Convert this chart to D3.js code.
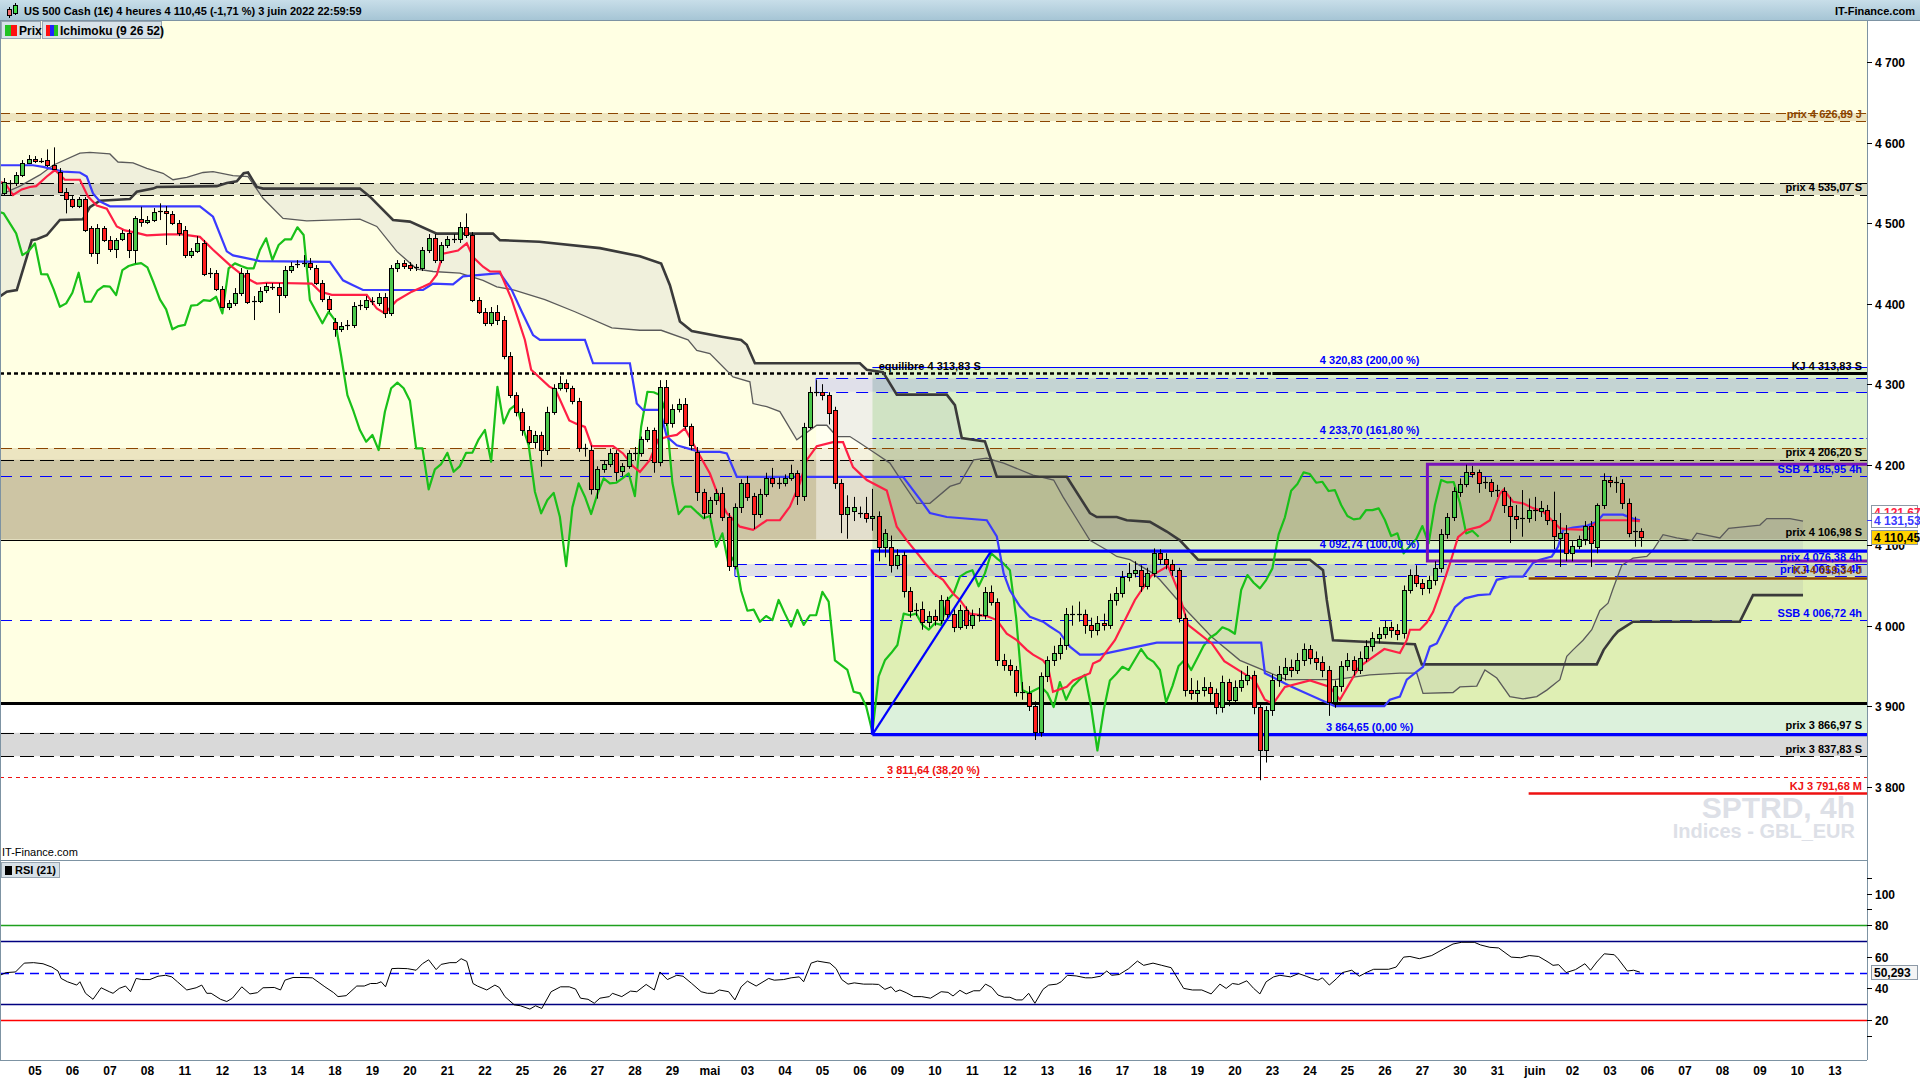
<!DOCTYPE html>
<html><head><meta charset="utf-8">
<script src="https://cdn.jsdelivr.net/npm/d3@7/dist/d3.min.js"></script>
<style>
html,body{margin:0;padding:0;background:#fff;overflow:hidden;}
svg{display:block;}
text{font-family:"Liberation Sans",Arial,sans-serif;}
</style></head><body>
<svg id="chart" width="1920" height="1080"></svg>
<script>
// ---------------- DATA ----------------
const titleText = "US 500 Cash (1€) 4 heures 4 110,45 (-1,71 %) 3 juin 2022 22:59:59";
const dayLabels = ["05","06","07","08","11","12","13","14","18","19","20","21","22","25","26","27","28","29","mai","03","04","05","06","09","10","11","12","13","16","17","18","19","20","23","24","25","26","27","30","31","juin","02","03","06","07","08","09","10","13"];
const priceTicks = [3800,3900,4000,4100,4200,4300,4400,4500,4600,4700];
const rsiTicks = [20,40,60,80,100];
const rsiMinorTicks = [10,90,110];
const rsiLevels = [80,70,50,30,20];

const opens = [4537.8,4550.2,4549.5,4559.8,4575.1,4579.3,4577.6,4578.4,4572.2,4563.9,
4539.1,4529.6,4521.3,4529.6,4493.6,4462.5,4493.6,4479.1,4467.5,4479.9,
4488.1,4466.6,4504.8,4501.8,4503.9,4514.2,4515.1,4511.4,4499.8,4491.5,
4460.4,4465.4,4475,4437.7,4437.7,4417.8,4396.2,4400.4,4413.6,4438.5,
4403.7,4403.7,4416.9,4421.1,4421.1,4410.7,4441.8,4448.9,4450.1,4450.9,
4443.9,4426,4405.4,4377.6,4368.2,4373.5,4373.5,4398.3,4396.2,4403.3,
4401.2,4407.9,4388,4443.9,4450.1,4448,4445.5,4443.9,4466.7,4481.2,
4454.2,4472.9,4479.9,4479.9,4495.6,4485.3,4404.5,4390,4375.6,4390,
4379.7,4335,4286.5,4265.8,4243,4228.6,4236.9,4218.2,4265.8,4294.9,
4301.9,4294.9,4279.5,4220.3,4218.2,4169.4,4194.2,4200.8,4214.8,4192.5,
4198.3,4214.8,4214.8,4231.5,4243.1,4203.7,4296.8,4251.4,4268.8,4275,
4248,4216.1,4166.4,4139.6,4156.2,4165,4135,4074,4147.8,4176.8,
4161,4138.7,4163.6,4183.1,4177.5,4176.8,4183.1,4189.3,4161,4247.2,
4290.6,4290.6,4286.5,4267.9,4177.6,4138.7,4142.8,4140.3,4140.3,4133.4,
4136.3,4098.1,4098.1,4075.4,4087.8,4043.4,4019.9,4021.2,4004.9,4012,
4007,4032,4015,3999,4019.5,4001,4013,4013,4042,4030,
3957,3951,3945,3918,3916,3900,3868,3937,3957,3966,
3976,4015,4013,4015,4001,3995,4003,4001,4032,4040,
4061,4066,4069,4049,4065,4090,4083,4077,4069,4010,
3920,3916,3920,3924,3916,3899,3930,3908,3924,3932,
3939,3899,3845,3895,3932,3940,3949,3945,3958,3971,
3960,3955,3945,3905,3925,3950,3958,3945,3960,3975,
3985,3990,3998,3995,3990.5,4044.3,4062.9,4053.4,4046.4,4056.7,
4071.2,4113.5,4134.6,4165.9,4176,4190.5,4190.5,4176.8,4178.1,4168.6,
4167.6,4148.6,4136.2,4133.4,4133.4,4143.7,4142.8,4143.7,4131.3,4108.6,
4114.8,4089.9,4099.2,4107.3,4123.8,4098.1,4149.9,4181,4178.8,4176.8,
4152.7,4115.9,4118];
const highs = [4556.1,4553.6,4563.5,4578.4,4584.7,4583.4,4580.9,4591.7,4594.2,4568.5,
4543.7,4533.7,4532.5,4532.5,4496.5,4498.9,4496.5,4484,4481.6,4491.5,
4492.7,4508.9,4520.4,4508.9,4518.8,4524.7,4521.3,4515.1,4503.9,4496.5,
4469.1,4484,4479.1,4444.3,4441.8,4421.9,4404.5,4419.4,4444.3,4441.8,
4409.5,4420.7,4425.6,4425.6,4425.6,4446.8,4451.7,4454.2,4460.4,4456.7,
4448,4429.4,4409.5,4382.2,4377.2,4379.7,4402,4404.5,4409.5,4408.2,
4413.2,4413.2,4448,4454.2,4454.2,4451.7,4449.3,4470.4,4486.5,4486.5,
4476.6,4484,4486.5,4501.4,4512.2,4489,4408.2,4394.6,4395.9,4398.3,
4384.7,4339.9,4290,4270,4248,4242,4241,4272,4300,4310,
4306,4298,4283,4226,4224,4198,4205,4220,4218,4202,
4218,4222,4235,4247,4246,4305,4305.2,4275,4282,4282.8,
4251,4222,4170,4160,4170,4172,4140,4152,4182,4186,
4165,4170,4190,4196,4184,4188,4200,4193,4252,4296.8,
4305,4300,4290,4272,4182,4162,4160,4148,4160,4170,
4142,4120,4112,4095,4092,4048,4028,4030,4018,4020,
4038,4036,4020,4026,4024,4020,4022,4048,4050,4034,
3965,3958,3950,3930,3925,3906,3942,3962,3975,3985,
4022,4025,4030,4020,4010,4012,4015,4040,4048,4068,
4078,4080,4075,4072,4096,4095,4090,4082,4072,4015,
3935,3932,3936,3930,3922,3938,3934,3932,3944,3950,
3944,3905,3900,3940,3950,3960,3958,3966,3978,3976,
3968,3962,3950,3932,3956,3966,3962,3968,3982,3992,
3998,4006,4005,4002,4050,4070,4075,4058,4062,4080,
4120,4140,4172,4183,4200,4198.5,4194,4185,4182,4175,
4172,4160,4150,4168.5,4158,4160,4155,4150,4166.5,4140,
4125,4105,4112,4130,4130,4152,4189.3,4186,4185,4182,
4158,4135.4,4121];
const lows = [4535,4535,4546.2,4557.3,4573.5,4574.7,4574.7,4569.8,4566,4537.5,
4512.2,4518.8,4518.8,4489,4458.3,4449.3,4476.6,4464.2,4456.7,4477.8,
4456.7,4450.1,4495.6,4498.9,4501.4,4503.9,4472.9,4497.7,4484,4456.7,
4456.7,4462.9,4434.3,4431.9,4415.7,4394.6,4392.1,4397.1,4409.5,4399.6,
4379.7,4400.8,4413.2,4417,4388.4,4407,4438.1,4444.3,4445.5,4441.8,
4423.2,4402,4389.6,4358.9,4364.8,4367.3,4369.8,4392.1,4392.1,4398.3,
4397.1,4382.2,4384.7,4439.3,4443.1,4440.6,4440.6,4440.6,4462.9,4450.5,
4450.5,4469.1,4475.4,4475.4,4481.6,4402,4387.2,4372.2,4372.2,4373.5,
4331,4282.8,4260,4236,4225,4220,4197.5,4212,4262,4292,
4290,4275,4216,4210,4163,4157.8,4190,4197,4180,4186,
4195,4205,4210,4228,4190,4198,4248,4246,4265,4244,
4218,4155,4133,4134,4150,4130,4068,4070,4140,4155,
4120,4134,4160,4172,4170,4173,4180,4150,4155,4244,
4285,4280,4250,4170,4115,4108,4130,4134,4128,4118,
4080,4085,4066,4070,4035,4010,4012,3995,3998,4000,
4002,4010,3992,3995,3996,3996,4005,4008,4025,3950,
3944,3938,3912,3908,3894,3858,3862,3930,3950,3958,
3970,4000,4005,3990,3985,3988,3994,3996,4025,4035,
4055,4060,4042,4045,4060,4076,4070,4062,4004,3912,
3908,3905,3912,3905,3890,3892,3900,3902,3918,3926,
3890,3808,3830,3888,3924,3932,3936,3940,3950,3952,
3945,3936,3888,3898,3918,3944,3938,3940,3955,3968,
3978,3984,3985,3982,3984,4040,4048,4038,4040,4050,
4066,4108,4130,4160,4172,4184,4165,4170,4160,4160,
4140,4102.7,4120,4110.5,4128,4130,4135,4125,4095,4073,
4080,4080,4095,4100,4073,4090,4145,4172,4165,4145,
4109.8,4098.1,4098];
const closes = [4551.5,4549,4559.8,4575.1,4579.3,4577.2,4576.3,4572.2,4566.9,4539.1,
4529.6,4521.3,4529.6,4491.5,4463.3,4493.6,4479.1,4467.5,4479.1,4488.1,
4466.6,4506,4501.8,4503.9,4514.2,4514.7,4512.2,4499.8,4487.4,4460.4,
4465.4,4475,4436.8,4436.4,4417.8,4396.2,4400.4,4413.6,4438.5,4402.4,
4402.4,4416.1,4421.9,4421.2,4410.7,4441.8,4446.8,4449.1,4450.4,4445.2,
4426,4405.4,4393,4368.2,4372.2,4373.6,4397.5,4398.4,4404.5,4403.4,
4408.6,4388,4443.9,4450.1,4446.8,4443.9,4443.9,4466.7,4481.2,4454.2,
4472.9,4479.9,4480,4494.9,4485.3,4404.5,4390,4375.6,4390,4379.7,
4335,4286.5,4265.8,4243,4228.6,4236.9,4218.2,4265.8,4294.9,4301.9,
4294.9,4279.5,4220.3,4220.4,4169.4,4194.2,4200.8,4214.8,4191.2,4198.3,
4214.8,4215,4231.5,4243.1,4203.7,4296.8,4251.4,4268.8,4275,4248,
4224.4,4166.4,4139.6,4156.2,4165,4135,4074,4147,4176.8,4160.2,
4138.7,4163.6,4183.1,4176.8,4177.6,4183.1,4189.3,4161,4247.2,4290.6,
4290,4286.5,4264.5,4177.6,4138.7,4147.8,4147.8,4140.4,4133.4,4136.3,
4098.1,4114.7,4075.4,4087.8,4043.4,4018.6,4020,4004.9,4012,4007,
4032,4015,3999,4019.5,4001,4013,4013,4042,4030,3957,
3951,3945,3918,3916,3900,3868,3937,3957,3966,3976,
4015,4013,4015,4001,3995,4003,4001,4032,4040,4061,
4066,4069,4049,4065,4090,4083,4077,4069,4010,3920,
3916,3920,3924,3916,3899,3930,3908,3924,3932,3939,
3899,3845,3895,3932,3940,3949,3945,3958,3971,3960,
3955,3945,3905,3925,3950,3958,3945,3960,3975,3985,
3990,3998,3995,3990,4044.3,4062.9,4053.4,4046.4,4056.7,4071.2,
4113.5,4134.6,4167.6,4176,4190.5,4188.4,4177.6,4178.8,4167.3,4168.5,
4149.9,4136.2,4132.1,4133.2,4143.7,4143.6,4145.8,4131.3,4111.4,4114.8,
4089.9,4099.2,4107.3,4123.8,4102.3,4149.9,4181,4178,4178.5,4152.7,
4114.7,4118,4110.45];
const firstBar = 1;
const chikouShift = 26;

// Ichimoku lines: [bar, price]
const tenkan = [[0.4,4551],[1.2,4550],[2.5,4535],[3.9,4542],[5.2,4545],[6.2,4546],[7.9,4558],[9.2,4566],[10.8,4554],[13.2,4554],[14.5,4533],[15.9,4522],[17.5,4518],[19.1,4496],[20.4,4491],[22.3,4488],[23.9,4485],[27.1,4486],[29.5,4486],[32.4,4483],[34.5,4467],[37.2,4448],[38.8,4438],[40.1,4431],[41.5,4425],[43.1,4426],[50.3,4425],[51.6,4415],[53.5,4411],[59.1,4411],[60.7,4394],[62,4388],[63.9,4404],[66.3,4415],[68.1,4421],[69.2,4425],[70.3,4436],[71.3,4462],[73.7,4466],[75.1,4475],[76.1,4458],[77.7,4446],[78.8,4440],[80.4,4440],[82.3,4405],[84.4,4355],[85.4,4318],[88.3,4297],[89.3,4293],[91.5,4255],[92.6,4251],[94,4247],[95.1,4223],[98.5,4223],[100.1,4214],[101.7,4198],[102.8,4191],[104.4,4206],[105.7,4231],[107.3,4235],[108.7,4237],[110,4245],[111.9,4218],[114,4189],[115.6,4156],[116.7,4140],[118.8,4123],[120.9,4119],[123.1,4131],[125.2,4131],[126.8,4148],[128.4,4177],[129.5,4206],[131.1,4223],[133.7,4228],[135.3,4228],[136.9,4197],[139.1,4181],[142.3,4168],[143.9,4123],[145.5,4106],[147.6,4086],[149.8,4065],[151.3,4057],[152.9,4040],[154,4032],[155.6,4015],[158.3,4012],[159.9,4007],[161.5,3990],[163.1,3982],[164.7,3970],[165.7,3964],[167.3,3957],[168.1,3949],[168.9,3918],[171.1,3924],[172.1,3932],[174.8,3941],[175.3,3953],[176.4,3957],[178.8,3982],[182,4032],[184.6,4062],[187.3,4074],[188.9,4044],[190.5,4001],[194.3,3978],[196.3,3956],[201.2,3932],[202.8,3908],[204.1,3903],[206,3924],[210,3932],[213.2,3924],[214.8,3908],[217.9,3949],[221.9,3971],[224.4,3966],[225.5,3982],[226,3995],[227.6,3995],[228.7,4004],[229.7,4017],[230.8,4040],[232.4,4077],[233.7,4110],[235.1,4119],[237.2,4123],[238.8,4131],[240.4,4164],[241,4169],[242.5,4154],[244.1,4152],[245.7,4146],[247.3,4142],[248.7,4131],[250,4121],[251.1,4120],[254.3,4119],[256.4,4131],[260.7,4131],[262.8,4130]];
const kijun = [[0.4,4572],[5.7,4572],[7.3,4570],[10.5,4564],[13.2,4563],[14.3,4558],[15.3,4537],[16.4,4527],[18,4521],[32.4,4521],[34.5,4508],[36.7,4465],[37.7,4460],[42,4453],[53.2,4452],[55.3,4429],[56.9,4423],[58.5,4417],[68.1,4417],[69.7,4425],[72.9,4424],[74.5,4434],[80.4,4438],[82.3,4417],[83.9,4390],[85.7,4361],[86.8,4355],[94,4355],[95.3,4326],[101.2,4326],[102.3,4276],[103.3,4268],[106,4268],[107.1,4235],[108.7,4224],[112.4,4216],[115.6,4216],[116.7,4214],[118.3,4185],[144.9,4185],[148.1,4152],[149.2,4140],[151.9,4135],[158.3,4131],[159.9,4111],[160.4,4090],[161,4065],[162,4044],[163.6,4024],[165.2,4011],[167.3,4005],[168.4,3999],[170,3991],[171.6,3974],[173.2,3964],[176.4,3964],[185.5,3979],[202.2,3979],[202.8,3941],[206.8,3925],[214,3900],[221.9,3900],[222.8,3908],[224.4,3912],[225.5,3933],[226.8,3941],[228.1,3949],[229.2,3974],[230.3,3978],[231.9,4003],[233.2,4023],[234.8,4034],[236.9,4038],[238.8,4039],[239.9,4057],[242,4061],[244.1,4061],[245.7,4078],[246.8,4082],[248.7,4086],[249.7,4098],[250.5,4119],[252.1,4122],[254.3,4124],[255.9,4129],[256.9,4138],[260.1,4138],[261.7,4133],[262.8,4131]];
const senkouA = [[0.4,4535],[3.6,4546],[6.8,4560],[8.9,4572],[13.2,4587],[14.8,4588],[18,4586],[19.3,4576],[21.7,4575],[23.9,4568],[26.5,4562],[28.1,4554],[30.3,4557],[32.9,4563],[34.5,4564],[37.7,4559],[40.1,4558],[42.5,4531],[45.7,4506],[49.5,4503],[58,4505],[60.7,4496],[63.9,4465],[67.1,4443],[69.7,4440],[74,4438],[77.7,4429],[79.9,4421],[82.7,4417],[87.6,4405],[92.4,4390],[98.3,4370],[102.8,4367],[106.2,4367],[110.5,4355],[111.9,4342],[114,4338],[117.7,4309],[120.4,4303],[120.9,4276],[123.1,4272],[125.2,4266],[127.9,4231],[131.1,4249],[132.7,4249],[134.3,4235],[136.4,4235],[138,4227],[140.1,4216],[142.8,4202],[144.9,4177],[147.1,4152],[149.2,4152],[152.4,4173],[154,4177],[156.2,4206],[158.3,4208],[161,4202],[165.7,4187],[169,4181],[170.5,4160],[172.1,4140],[174.8,4106],[177.5,4094],[179.1,4086],[181.2,4082],[184.9,4065],[186,4057],[190.5,4017],[194.3,3986],[198.8,3957],[206.2,3933],[214,3933],[219.6,3939],[224.4,3941],[227.1,3941],[228.1,3916],[232.9,3917],[234,3924],[236.7,3925],[238,3945],[239.9,3935],[242,3912],[244.1,3909],[246.3,3912],[247.9,3920],[250,3933],[251.1,3962],[252.1,3970],[253.7,3982],[255.1,3995],[256.4,4019],[257.7,4028],[258.5,4046],[259.9,4075],[261.7,4084],[263.9,4086],[264.9,4094],[266.5,4113],[268.7,4109],[271.1,4106],[271.9,4115],[275.6,4109],[277,4121],[282,4125],[283.1,4133],[286.8,4133],[288.9,4130]];
const senkouB = [[0.4,4409],[1.5,4415],[3.1,4417],[4.7,4458],[5.5,4479],[6.3,4480],[7.9,4485],[10,4504],[13.7,4505],[14.8,4520],[16.4,4528],[21.2,4530],[22.3,4539],[24.9,4543],[25.5,4545],[35.1,4546],[36.7,4550],[38.3,4552],[39.4,4562],[40.1,4563],[41.5,4545],[42.5,4543],[58,4543],[59.6,4533],[63.3,4504],[66,4502],[70.3,4487],[79.3,4487],[80.4,4479],[86.7,4477],[96.4,4469],[102.8,4459],[106.2,4450],[107.6,4423],[109.2,4378],[111.1,4366],[115.9,4359],[119,4355],[119.9,4349],[121.2,4326],[138,4326],[139.1,4318],[141.7,4315],[143.9,4287],[151.9,4287],[153.2,4274],[154.3,4233],[156.1,4231],[158,4229],[159.9,4185],[171.1,4185],[174.8,4140],[175.9,4135],[179.1,4135],[180.7,4131],[184.4,4129],[187.1,4117],[189.2,4106],[192.1,4082],[210,4082],[212.1,4069],[212.7,4032],[213.7,3982],[226.8,3977],[227.9,3952],[255.9,3952],[257,3970],[258.5,3986],[259.3,3993],[261.7,4005],[278.8,4005],[280.9,4038],[288.9,4038]];

// RSI(21): [bar, value]
const rsi = [[0.4,48.3],[1.4,50],[2.9,50.4],[4.3,56],[5.8,56.3],[7.3,55.6],[8.7,53.5],[9.7,51],[10.2,46.3],[11.2,44.2],[12.7,42.1],[13.2,44.2],[14.1,36.9],[15.3,33.1],[16.6,40.4],[17.9,37.9],[18.5,36.9],[19.5,40],[20.5,41.5],[21.3,37.9],[22.2,46.3],[23.1,45.6],[24.4,45.6],[25.7,47.7],[26.9,48.3],[27.9,47.3],[28.8,44.2],[30.3,39],[31.8,40.4],[32.7,42.1],[33.5,36.9],[34.2,36.9],[35.7,33.1],[36.7,31.7],[37.6,33.8],[39.1,41],[40.4,36.5],[41.6,37.3],[42.5,40.4],[44.3,40.6],[45.3,39],[46,45.2],[47.3,46.9],[48.9,46.9],[50.4,46.7],[52.4,41],[53.8,37.3],[54.5,34.8],[55.8,35.4],[57.5,41.5],[58.7,41.5],[59.7,43.1],[60.7,43.1],[61.4,44.2],[62.1,41],[63.1,52.5],[64.1,52.7],[65.6,52.5],[67,51.5],[68,55.6],[69,58.1],[70.2,51.9],[71,55.2],[72.4,56.3],[73.4,56.3],[74.2,58.8],[75.1,57.1],[76.1,43.1],[76.8,41.5],[78.3,39],[79.6,42.1],[80.3,40.6],[81.2,34.8],[82.7,29.6],[83.7,29],[85.2,26.9],[86.1,29],[87.1,27.3],[88.6,37.9],[90.1,41],[91.5,41],[92.5,39.6],[93.3,33.8],[94.5,33.1],[95.5,30.6],[96.4,33.8],[97.9,34.8],[98.4,36.9],[99.9,34.8],[101.3,38.3],[102.3,37.9],[103.8,42.5],[105.1,39],[106,50.4],[107.2,45.6],[108.7,48.3],[109.7,47.7],[111.1,43.1],[112.6,37.9],[113.6,36.9],[114.6,36.9],[115.5,39],[117,37.9],[118,32.7],[119,41],[120,44.6],[121.4,41.5],[123.4,46.3],[124.3,45.2],[125.8,45.6],[127,46.7],[128.3,47.3],[129,44.2],[130.2,56],[131.2,57.3],[133.2,56],[134.2,52.5],[135.1,45.6],[136.1,42.7],[137.1,43.5],[138.6,42.7],[140,42.7],[141,42.5],[142,39.4],[143,41],[143.7,37.9],[144.4,39],[145.4,37.3],[146.6,34.8],[147.9,34.8],[149.3,33.8],[151,37.9],[152.1,37.5],[152.9,35.2],[154,38.8],[155,36.5],[156.2,38.5],[157.2,38.5],[158.1,42.7],[159.1,40.6],[160.1,35.8],[161.1,34.4],[162,34.4],[163,32.7],[164,32.7],[165,36.9],[166,30.6],[167.3,39.4],[168.2,42.1],[169.5,42.7],[170.2,44.2],[171.2,48.3],[172.6,47.9],[174.1,46.7],[175.1,46.7],[176.5,47.7],[177.5,51],[178.3,48.3],[179.5,48.8],[181,52.5],[182.4,57.3],[183.4,54.6],[184.9,56],[186.3,54.6],[187.8,53.1],[189.8,40],[191.2,39],[192.7,39],[194.2,36.5],[195.6,42.7],[196.6,40],[197.6,43.1],[198.6,42.5],[199.9,44.8],[201,40],[202,36.5],[203,44.2],[204.2,47.3],[205.2,48.3],[206.9,47.3],[208.2,49.4],[209.4,47.7],[210.3,46.3],[211.3,45.2],[212,46.7],[213.1,42.1],[214.3,46.3],[215.2,50],[216.7,51.5],[217.9,47.7],[219.2,50.4],[220.2,52.1],[222.6,52.1],[223.8,53.5],[225,59.8],[226,60.2],[227.5,58.8],[229.5,60.8],[231.4,65],[232.9,68.1],[234.3,69.2],[236.3,69.2],[237.3,67.5],[238.8,66],[240.2,65.6],[242.2,59.8],[243.7,59.4],[245.1,60.8],[246.6,60.2],[248.1,56.7],[248.9,54.6],[249.8,55],[251,50],[252.5,51.9],[254,55.6],[254.9,51.5],[255.9,56.7],[257.1,61.9],[258.7,61.3],[259.3,58.8],[260.8,51],[261.8,51.5],[262.8,50.293]];

// Horizontal price zones (whole width): [low, high]
const zoneJ = [4626.89, 4636.8];
const zoneS1 = [4535.07, 4549.5];
const zoneS2 = [4206.2, 4220.7];
const zoneS3 = [4106.98, 4206.2];
const zoneS4 = [3837.83, 3866.97];
// 4h zones starting at a bar: [bar, low, high]
const zone4hUp = [131, 4290.7, 4307.3];
const zone4hLow = [118, 4061.63, 4076.38];
const veil = [131, 140, 4107, 4307];
const equilibre = 4313.83, equilibreSolidFrom = 204;
const supportLine = 3903.6;
const ssbLevelA = 4185.95, ssbLevelB = 4006.72;
const kjLevels = [[245, 4059.34], [245, 3791.68]];
const fibStart = 140, fibHighBar = 159;
const fibLevels = {ext200: 4320.83, ext161: 4233.70, high: 4092.74, low: 3864.65, r382: 3811.64};
const purpleBox = [228.8, 4080.3, 4200.5];
const lastValues = {tenkan: 4121.67, kijun: 4131.53, close: 4110.45, rsi: 50.293};

const rightLabels = [
  ["prix 4 626,89 J", 4626.89, "brown"], ["prix 4 535,07 S", 4535.07, "black"],
  ["KJ 4 313,83 S", 4313.83, "black"], ["prix 4 206,20 S", 4206.2, "black"],
  ["SSB 4 185,95 4h", 4185.95, "blue"], ["prix 4 106,98 S", 4106.98, "black"],
  ["prix 4 076,38 4h", 4076.38, "blue"], ["prix 4 061,63 4h", 4061.63, "blue"],
  ["KJ 4 059,34 J", 4059.34, "brown"], ["SSB 4 006,72 4h", 4006.72, "blue"],
  ["prix 3 866,97 S", 3866.97, "black"], ["prix 3 837,83 S", 3837.83, "black"],
  ["KJ 3 791,68 M", 3791.68, "red"]
];
const fibLabels = [["4 320,83 (200,00 %)", 4320.83], ["4 233,70 (161,80 %)", 4233.70], ["4 092,74 (100,00 %)", 4092.74], ["3 864,65 (0,00 %)", 3864.65]];

// ---------------- DRAW ----------------
const svg = d3.select('#chart');
const XR = 1867, TOP = 21, MAINB = 860, RSIB = 1060;
const x = d3.scaleLinear().domain([0, 299]).range([-2.6, 1866.15]);
const y = d3.scaleLinear().domain([3800, 4600]).range([786.7, 142.7]);
const yr = d3.scaleLinear().domain([20, 80]).range([1020, 925.2]);
const COL = {black:'#000', blue:'#0000ff', brown:'#8b4500', red:'#ee1111'};

const defs = svg.append('defs');
defs.append('clipPath').attr('id','cm').append('rect').attr('x',0).attr('y',TOP).attr('width',XR).attr('height',MAINB-TOP);
defs.append('clipPath').attr('id','cr').append('rect').attr('x',0).attr('y',MAINB).attr('width',XR).attr('height',RSIB-MAINB);
const gr = defs.append('linearGradient').attr('id','hdr').attr('x1',0).attr('y1',0).attr('x2',0).attr('y2',1);
gr.append('stop').attr('offset','0%').attr('stop-color','#c8dee9');
gr.append('stop').attr('offset','100%').attr('stop-color','#a6c5d5');

svg.append('rect').attr('width',1920).attr('height',1080).attr('fill','#fff');

const m = svg.append('g').attr('clip-path','url(#cm)');
m.append('rect').attr('x',0).attr('y',TOP).attr('width',XR).attr('height',MAINB-TOP).attr('fill','#fff');
m.append('rect').attr('x',0).attr('y',TOP).attr('width',XR).attr('height',y(supportLine)-TOP).attr('fill','#ffffe3');

function band(g, x1, lo, hi, fill){ g.append('rect').attr('x',x1).attr('width',XR-x1+2).attr('y',y(hi)).attr('height',y(lo)-y(hi)).attr('fill',fill); }
function hline(g, price, color, w, dash, x1, x2){
  g.append('line').attr('x1',x1==null?0:x1).attr('x2',x2==null?XR:x2).attr('y1',Math.round(y(price))+0.5).attr('y2',Math.round(y(price))+0.5)
   .attr('stroke',color).attr('stroke-width',w).attr('stroke-dasharray',dash||null);
}

// fib area
const fx = x(fibStart);
band(m, fx, fibLevels.low, fibLevels.ext200, 'rgba(140,210,140,0.30)');
band(m, fx, supportLine, fibLevels.high, 'rgba(232,236,120,0.25)');
// zones
band(m, 0, zoneJ[0], zoneJ[1], 'rgba(200,170,110,0.30)');
band(m, 0, zoneS1[0], zoneS1[1], 'rgba(120,120,100,0.25)');
band(m, 0, zoneS2[0], zoneS2[1], 'rgba(180,150,90,0.25)');
band(m, 0, zoneS3[0], zoneS3[1], 'rgba(130,110,70,0.40)');
band(m, 0, zoneS4[0], zoneS4[1], '#d9d9d9');
band(m, x(zone4hUp[0]), zone4hUp[1], zone4hUp[2], 'rgba(100,100,255,0.20)');
band(m, x(zone4hLow[0]), zone4hLow[1], zone4hLow[2], 'rgba(100,100,255,0.20)');
m.append('rect').attr('x',x(veil[0])).attr('width',x(veil[1])-x(veil[0])).attr('y',y(veil[3])).attr('height',y(veil[2])-y(veil[3])).attr('fill','rgba(255,255,255,0.45)');

// cloud
const lineP = d3.line().x(d=>x(d[0])).y(d=>y(d[1]));
m.append('path').attr('d', lineP(senkouA.concat(senkouB.slice().reverse()))+'Z').attr('fill','rgba(110,110,170,0.10)');

// horizontal lines
hline(m, zoneJ[1], COL.brown, 1, '10,6');
hline(m, zoneJ[0], COL.brown, 1, '10,6');
hline(m, zoneS1[1], '#000', 1, '14,6');
hline(m, zoneS1[0], '#000', 1, '14,6');
hline(m, fibLevels.ext200, COL.blue, 1.2, null, fx);
hline(m, equilibre, '#000', 2.5, '4,3', 0, x(equilibreSolidFrom));
hline(m, equilibre, '#000', 3, null, x(equilibreSolidFrom));
hline(m, zone4hUp[2], COL.blue, 1, '12,8', x(zone4hUp[0]));
hline(m, zone4hUp[1], COL.blue, 1, '12,8', x(zone4hUp[0]));
m.append('line').attr('x1',x(zone4hUp[0])).attr('x2',x(zone4hUp[0])).attr('y1',y(zone4hUp[2])).attr('y2',y(zone4hUp[1])).attr('stroke',COL.blue);
hline(m, fibLevels.ext161, COL.blue, 1, '4,3', fx);
hline(m, zoneS2[1], COL.brown, 1.2, '12,6');
hline(m, zoneS2[0], '#000', 1, '14,6');
hline(m, ssbLevelA, COL.blue, 1, '12,8');
hline(m, zoneS3[0], '#000', 1.2, null);
hline(m, zone4hLow[2], COL.blue, 1, '12,8', x(zone4hLow[0]));
hline(m, zone4hLow[1], COL.blue, 1, '12,8', x(zone4hLow[0]));
m.append('line').attr('x1',x(zone4hLow[0])).attr('x2',x(zone4hLow[0])).attr('y1',y(zone4hLow[2])).attr('y2',y(zone4hLow[1])).attr('stroke',COL.blue);
hline(m, kjLevels[0][1], COL.brown, 2.5, null, x(kjLevels[0][0]));
hline(m, ssbLevelB, COL.blue, 1, '12,8');
hline(m, supportLine, '#000', 3, null);
hline(m, zoneS4[1], '#000', 1, '14,6');
hline(m, zoneS4[0], '#000', 1, '14,6');
hline(m, fibLevels.r382, COL.red, 1, '4,4');
hline(m, kjLevels[1][1], COL.red, 2.5, null, x(kjLevels[1][0]));

// ichimoku lines
const lineGen = d3.line().x(d=>x(d[0])).y(d=>y(d[1]));
m.append('path').attr('d',lineGen(senkouA)).attr('fill','none').attr('stroke','#5a5a5a').attr('stroke-width',1.3);
m.append('path').attr('d',lineGen(senkouB)).attr('fill','none').attr('stroke','#3a3a3a').attr('stroke-width',2.6);
const chikou = closes.map((c,i)=>[i+firstBar-chikouShift, c]);
m.append('path').attr('d',lineGen(chikou)).attr('fill','none').attr('stroke','#19c019').attr('stroke-width',2.2).attr('stroke-linejoin','round');
m.append('path').attr('d',lineGen(kijun)).attr('fill','none').attr('stroke','#3a3aff').attr('stroke-width',2.2);
m.append('path').attr('d',lineGen(tenkan)).attr('fill','none').attr('stroke','#ff1f45').attr('stroke-width',2.2);

// fib box + purple box
m.append('path').attr('d',`M${fx},${y(fibLevels.low)}V${y(fibLevels.high)}H${XR+5}M${fx},${y(fibLevels.low)}H${XR+5}`)
  .attr('fill','none').attr('stroke','#0000ff').attr('stroke-width',3.2);
m.append('line').attr('x1',fx).attr('y1',y(fibLevels.low)).attr('x2',x(fibHighBar)).attr('y2',y(fibLevels.high)).attr('stroke','#0000ff').attr('stroke-width',2.2);
m.append('path').attr('d',`M${XR+5},${y(purpleBox[2])}H${x(purpleBox[0])}V${y(purpleBox[1])}H${XR+5}`)
  .attr('fill','none').attr('stroke','#7a12b8').attr('stroke-width',3);

// candles
const bars = opens.map((o,i)=>({n:i+firstBar,o:o,h:highs[i],l:lows[i],c:closes[i]}));
const cg = m.append('g');
bars.forEach(b=>{
  const bx = Math.round(x(b.n));
  cg.append('line').attr('x1',bx+0.5).attr('x2',bx+0.5).attr('y1',y(b.h)).attr('y2',y(b.l)).attr('stroke','#000').attr('stroke-width',1);
  const top = Math.round(y(Math.max(b.o,b.c))), bot = Math.round(y(Math.min(b.o,b.c)));
  if (bot-top < 2) {
    cg.append('line').attr('x1',bx-2).attr('x2',bx+3).attr('y1',top+0.5).attr('y2',top+0.5).attr('stroke','#000').attr('stroke-width',1.2);
  } else {
    cg.append('rect').attr('x',bx-1.5).attr('y',top+0.5).attr('width',4).attr('height',bot-top)
      .attr('fill', b.c>=b.o ? '#4cc84c' : '#ff2020').attr('stroke','#000').attr('stroke-width',1);
  }
});

// labels
const lab = m.append('g').attr('font-weight','bold').attr('font-size','11px');
rightLabels.forEach(d=>{
  lab.append('text').attr('x',1862).attr('y',y(d[1])-3.5).attr('text-anchor','end').attr('fill',COL[d[2]]).text(d[0]);
});
const fibMid = (fx + XR)/2;
fibLabels.forEach(d=>{
  lab.append('text').attr('x',fibMid).attr('y',y(d[1])-3.5).attr('text-anchor','middle').attr('fill',COL.blue).text(d[0]);
});
lab.append('text').attr('x',XR/2).attr('y',y(fibLevels.r382)-3.5).attr('text-anchor','middle').attr('fill',COL.red).text('3 811,64 (38,20 %)');
lab.append('text').attr('x',x(fibStart+1)).attr('y',y(equilibre)-3.5).attr('fill','#000').text('equilibre 4 313,83 S');

// watermark
m.append('text').attr('x',1855).attr('y',818).attr('text-anchor','end').attr('font-size','30px').attr('font-weight','bold').attr('fill','#dde0e7').text('SPTRD, 4h');
m.append('text').attr('x',1855).attr('y',838).attr('text-anchor','end').attr('font-size','20px').attr('font-weight','bold').attr('fill','#dde0e7').text('Indices - GBL_EUR');

// ---------- RSI panel ----------
const r = svg.append('g').attr('clip-path','url(#cr)');
const rsiCol = {80:'#1ea01e',70:'#000080',50:'#0000ff',30:'#000080',20:'#ff0000'};
rsiLevels.forEach(v=>{
  r.append('line').attr('x1',0).attr('x2',XR).attr('y1',Math.round(yr(v))+0.5).attr('y2',Math.round(yr(v))+0.5)
   .attr('stroke',rsiCol[v]).attr('stroke-width',1.3).attr('stroke-dasharray', v===50?'9,6':null);
});
r.append('path').attr('d', d3.line().x(d=>x(d[0])).y(d=>yr(d[1]))(rsi)).attr('fill','none').attr('stroke','#000').attr('stroke-width',1);

// ---------- frames / axes ----------
svg.append('rect').attr('x',0).attr('y',0).attr('width',1920).attr('height',20).attr('fill','url(#hdr)');
svg.append('line').attr('x1',0).attr('x2',1920).attr('y1',20.5).attr('y2',20.5).attr('stroke','#7d93a3');
// candle icon
svg.append('line').attr('x1',9.5).attr('x2',9.5).attr('y1',7).attr('y2',18).attr('stroke','#000');
svg.append('rect').attr('x',7.5).attr('y',9.5).attr('width',4).attr('height',6).attr('fill','#f07070').attr('stroke','#000');
svg.append('line').attr('x1',15.5).attr('x2',15.5).attr('y1',3).attr('y2',15).attr('stroke','#000');
svg.append('rect').attr('x',13.5).attr('y',5.5).attr('width',4).attr('height',8).attr('fill','#44dd44').attr('stroke','#000');
svg.append('text').attr('x',24).attr('y',15).attr('font-size','11px').attr('font-weight','bold').attr('fill','#000').text(titleText);
svg.append('text').attr('x',1915).attr('y',15).attr('text-anchor','end').attr('font-size','11px').attr('font-weight','bold').attr('fill','#000').text('IT-Finance.com');

// legend boxes
function legendBox(x0, w, colors, label, yy){
  svg.append('rect').attr('x',x0+0.5).attr('y',yy+0.5).attr('width',w).attr('height',17).attr('fill','#d7e1e8').attr('stroke','#98a6b2');
  colors.forEach((c,i)=>svg.append('rect').attr('x',x0+4+i*(12/colors.length)).attr('y',yy+4).attr('width',12/colors.length).attr('height',11).attr('fill',c));
  svg.append('text').attr('x',x0+18).attr('y',yy+14).attr('font-size','12px').attr('font-weight','bold').attr('fill','#000').text(label);
}
legendBox(1, 39, ['#22c222','#ff1010'], 'Prix', 21);
legendBox(42, 119, ['#ff1010','#2222ff','#22c222'], 'Ichimoku (9 26 52)', 21);

// panel borders
svg.append('line').attr('x1',0.5).attr('x2',0.5).attr('y1',21).attr('y2',RSIB).attr('stroke','#7d93a3');
svg.append('line').attr('x1',XR+0.5).attr('x2',XR+0.5).attr('y1',21).attr('y2',RSIB).attr('stroke','#7d93a3');
svg.append('line').attr('x1',0).attr('x2',XR).attr('y1',MAINB+0.5).attr('y2',MAINB+0.5).attr('stroke','#7d93a3');
svg.append('line').attr('x1',0).attr('x2',XR).attr('y1',RSIB+0.5).attr('y2',RSIB+0.5).attr('stroke','#7d93a3');
svg.append('text').attr('x',2).attr('y',MAINB-4).attr('font-size','11px').attr('fill','#000').text('IT-Finance.com');
// RSI legend
svg.append('rect').attr('x',1.5).attr('y',MAINB+2.5).attr('width',58).attr('height',15).attr('fill','#d7e1e8').attr('stroke','#98a6b2');
svg.append('rect').attr('x',5).attr('y',MAINB+6).attr('width',7).attr('height',9).attr('fill','#000');
svg.append('text').attr('x',15).attr('y',MAINB+14).attr('font-size','11px').attr('font-weight','bold').text('RSI (21)');

// price axis
const pa = svg.append('g');
priceTicks.forEach(p=>{
  const yy = Math.round(y(p))+0.5;
  pa.append('line').attr('x1',XR).attr('x2',XR+5).attr('y1',yy).attr('y2',yy).attr('stroke','#000');
  pa.append('text').attr('x',XR+8).attr('y',yy+4).attr('font-size','12px').attr('font-weight','bold').text(d3.format(',')(p).replace(',',' '));
});
// RSI axis
rsiTicks.forEach(v=>{
  const yy = Math.round(yr(v))+0.5;
  pa.append('line').attr('x1',XR).attr('x2',XR+5).attr('y1',yy).attr('y2',yy).attr('stroke','#000');
  pa.append('text').attr('x',XR+8).attr('y',yy+4).attr('font-size','12px').attr('font-weight','bold').text(v);
});
rsiMinorTicks.forEach(v=>{
  const yy = Math.round(yr(v))+0.5;
  pa.append('line').attr('x1',XR).attr('x2',XR+5).attr('y1',yy).attr('y2',yy).attr('stroke','#000');
});
// value boxes
function valBox(yc, txt, fill, col){
  pa.append('rect').attr('x',XR+4.5).attr('y',Math.round(yc-7)+0.5).attr('width',46).attr('height',14).attr('fill',fill).attr('stroke','#8c99a6');
  pa.append('text').attr('x',XR+7).attr('y',Math.round(yc)+4.5).attr('font-size','12px').attr('font-weight','bold').attr('fill',col).text(txt);
}
valBox(y(lastValues.tenkan)-16, '4 121,67', '#fff', '#ff1f45');
valBox(y(lastValues.kijun), '4 131,53', '#fff', '#3a3aff');
pa.append('line').attr('x1',XR).attr('x2',XR+5).attr('y1',Math.round(y(lastValues.kijun))+0.5).attr('y2',Math.round(y(lastValues.kijun))+0.5).attr('stroke','#3a3aff');
valBox(y(lastValues.close), '4 110,45', '#ffd200', '#000');
valBox(yr(lastValues.rsi), '50,293', '#f4f4f4', '#000');

// date axis
dayLabels.forEach((d,k)=>{
  pa.append('text').attr('x',x(6+6*k)).attr('y',1075).attr('text-anchor','middle').attr('font-size','12px').attr('font-weight','bold').text(d);
});
</script>
</body></html>
